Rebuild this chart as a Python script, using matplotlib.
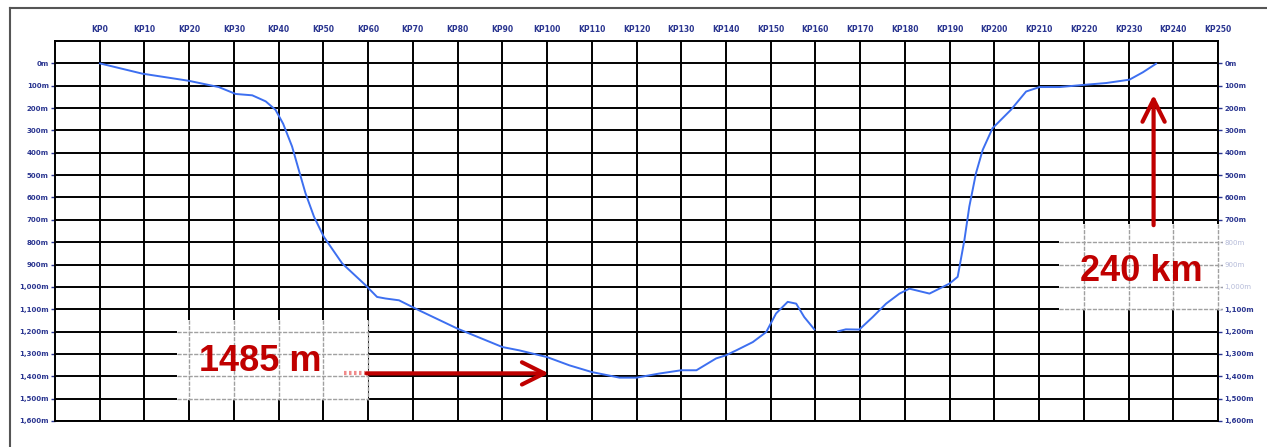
import matplotlib.pyplot as plt
from matplotlib.patches import Rectangle
from matplotlib.lines import Line2D
import numpy as np

# profile (distance in km, depth in m), nan = gap in the line
km = [0, 9.5, 19.9, 26.6, 30.4, 34.1, 37.1, 39.3, 41.0, 43.0, 44.5, 46.0, 47.9, 50.1, 54.2,
      59.4, 62.0, 63.9, 66.9, 69.9, 71.4, 80, 90, 93.8, 100, 105, 110, 116.2, 120, 125,
      130, 133.4, 137.8, 140, 142.3, 146, 149, 151.2, 153.8, 155.7, 157.5, 159.8, np.nan,
      165, 166.8, 169.8, 172.8, 175.8, 178.8, 181, 185.5, 190, 191.8, 193.3, 194.4, 195.9,
      197.4, 199.6, 203.7, 207.1, 210.1, 214.6, 220.2, 225, 230.2, 233.2, 236.2]
depth = [0, 46, 78, 106, 137, 143, 170, 208, 270, 372, 477, 581, 686, 776, 895,
         992, 1045, 1052, 1060, 1090, 1105, 1187, 1269, 1284, 1314, 1351, 1381, 1406, 1406, 1388,
         1373, 1373, 1320, 1306, 1284, 1247, 1202, 1119, 1067, 1075, 1135, 1191, np.nan,
         1199, 1190, 1191, 1135, 1075, 1030, 1008, 1030, 985, 955, 791, 641, 491,
         387, 290, 208, 126, 106, 106, 96, 88, 73, 40, 1]

kp_ticks = list(range(0, 251, 10))
kp_labels = [f"KP{k}" for k in kp_ticks]
depth_ticks = list(range(0, 1601, 100))
depth_labels = [f"{d:,}m" for d in depth_ticks]
faded_right = [800, 900, 1000]

navy = "#2a3590"
red = "#c00000"

fig = plt.figure(figsize=(12.67, 4.47), dpi=100)
ax = fig.add_axes([55 / 1267, 1 - 421 / 447, (1218 - 55) / 1267, (421 - 41) / 447])
ax.set_xlim(-10, 250)
ax.set_ylim(1600, -100)

# black grid
ax.vlines(kp_ticks, -100, 1600, color="black", lw=1.4, zorder=1)
ax.hlines(depth_ticks, -10, 250, color="black", lw=1.4, zorder=1)
for s in ax.spines.values():
    s.set_linewidth(1.4)
    s.set_color("black")

ax.xaxis.tick_top()
ax.set_xticks(kp_ticks)
ax.set_xticklabels(kp_labels, fontweight="bold")
ax.tick_params(axis="x", length=0, pad=5, labelsize=5.5, labelcolor=navy)

ax.set_yticks(depth_ticks)
ax.set_yticklabels(depth_labels, fontweight="bold")
ax.tick_params(axis="y", left=True, right=True, labelleft=True, labelright=True,
               length=3, width=1, color=navy, pad=1.5, labelsize=5, labelcolor=navy)
for t, d in zip(ax.yaxis.get_major_ticks(), depth_ticks):
    t.label2.set_fontweight("bold")
    if d in faded_right:
        t.label2.set_color("#b4bad8")
        t.label2.set_fontweight("normal")


def paste_box(x0, x1, y0, y1):
    # white patch where the labels were pasted, grid shows through as grey dashes
    ax.add_patch(Rectangle((x0, y0), x1 - x0, y1 - y0, facecolor="white",
                           edgecolor="none", zorder=3, clip_on=False))
    for k in kp_ticks:
        if x0 < k <= x1:
            ax.plot([k, k], [y0, y1], color="#a0a0a0", lw=1, ls=(0, (3, 1)),
                    zorder=4, clip_on=False)
    for d in depth_ticks:
        if y0 < d < y1:
            ax.plot([x0, x1], [d, d], color="#a0a0a0", lw=1, ls=(0, (3, 1)),
                    zorder=4, clip_on=False)


paste_box(17.2, 60, 1150, 1505)
paste_box(214.5, 250.8, 720, 1105)

ax.plot(km, depth, color="#3d6ff0", lw=1.4, zorder=5,
        solid_joinstyle="round", solid_capstyle="round")

# annotations
ax.text(35.8, 1335, "1485 m", color=red, fontsize=26, fontweight="bold",
        family="Liberation Sans", ha="center", va="center", zorder=7)
ax.plot([54.6, 59.7], [1387, 1387], color="#f08a8a", lw=3, ls=(0, (0.6, 0.6)), zorder=7)
ax.annotate("", xy=(100.4, 1387), xytext=(59.7, 1387), zorder=7,
            arrowprops=dict(arrowstyle="->,head_length=0.8,head_width=0.4", color=red,
                            lw=3, mutation_scale=20, shrinkA=0, shrinkB=0))

ax.text(232.9, 932, "240 km", color=red, fontsize=26, fontweight="bold",
        family="Liberation Sans", ha="center", va="center", zorder=7)
ax.annotate("", xy=(235.6, 141), xytext=(235.6, 724), zorder=7,
            arrowprops=dict(arrowstyle="->,head_length=0.8,head_width=0.4", color=red,
                            lw=3, mutation_scale=20, shrinkA=0, shrinkB=0))

# outer frame of the page
fig.add_artist(Line2D([10 / 1267, 1], [1 - 8 / 447] * 2, transform=fig.transFigure,
                      color="#555555", lw=1.5))
fig.add_artist(Line2D([10 / 1267] * 2, [0, 1 - 8 / 447], transform=fig.transFigure,
                      color="#555555", lw=1.5))

fig.savefig("out.png", dpi=100)
